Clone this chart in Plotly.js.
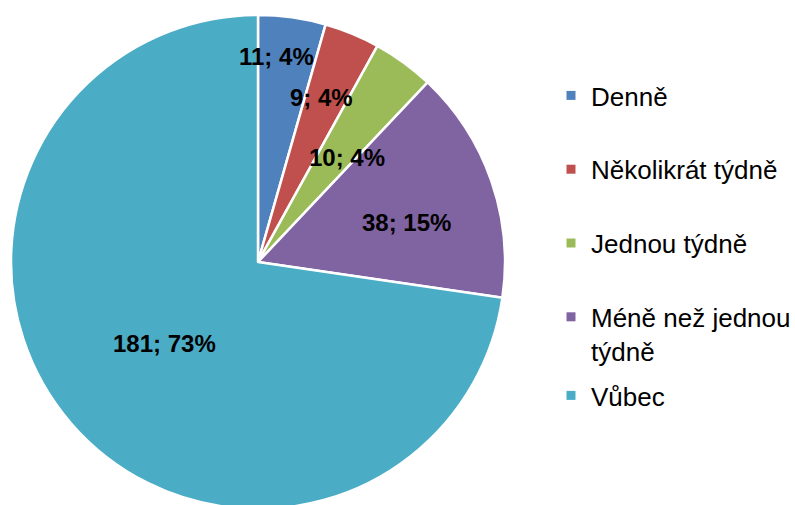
<!DOCTYPE html>
<html>
<head>
<meta charset="utf-8">
<script src="https://cdn.plot.ly/plotly-3.0.1.min.js"></script>
<style>
html,body{margin:0;padding:0;overflow:hidden;background:#fff;width:795px;height:505px;}
#chart{width:840px;height:515px;}
</style>
</head>
<body>
<div id="chart"></div>
<script>
// Data
const categories = ['Denně', 'Několikrát týdně', 'Jednou týdně', 'Méně než jednou týdně', 'Vůbec'];
const legendLabels = ['Denně', 'Několikrát týdně', 'Jednou týdně', 'Méně než jednou<br>týdně', 'Vůbec'];
const values = [11, 9, 10, 38, 181];
const colors = ['#4F81BD', '#C0504D', '#9BBB59', '#8064A2', '#4BACC6'];

// Label placement styles (fraction of radius, fraction across slice angle)
const labelRadius = [0.834, 0.715, 0.557, 0.623, 0.502];
const labelAngleFrac = [0.33, 0.385, 0.79, 0.58, 0.50];

const W = 840, H = 515;
const dom = {x0: 11, x1: 505, y0: 15, y1: 509};
const cx = (dom.x0 + dom.x1) / 2, cy = (dom.y0 + dom.y1) / 2;
const R = Math.min(dom.x1 - dom.x0, dom.y1 - dom.y0) / 2;
const total = values.reduce((a, b) => a + b, 0);
const font = 'Liberation Sans, Arial, sans-serif';

const traces = [{
  type: 'pie',
  values: values,
  labels: categories,
  sort: false,
  direction: 'clockwise',
  rotation: 0,
  marker: {colors: colors, line: {color: '#ffffff', width: 2.5}},
  textinfo: 'none',
  hoverinfo: 'label+value+percent',
  showlegend: false,
  domain: {x: [dom.x0 / W, dom.x1 / W], y: [1 - dom.y1 / H, 1 - dom.y0 / H]}
}];

categories.forEach((c, i) => {
  traces.push({
    type: 'scatter', mode: 'markers', x: [null], y: [null],
    name: legendLabels[i],
    legendgroup: 'g' + i,
    legend: i === 4 ? 'legend2' : 'legend',
    marker: {symbol: 'square', size: 9, color: colors[i]},
    hoverinfo: 'skip'
  });
});

const annotations = [];
let cum = 0;
values.forEach((v, i) => {
  const th = (cum + labelAngleFrac[i] * v) / total * 2 * Math.PI;
  const px = cx + labelRadius[i] * R * Math.sin(th);
  const py = cy - labelRadius[i] * R * Math.cos(th);
  annotations.push({
    xref: 'paper', yref: 'paper', x: px / W, y: 1 - py / H,
    xanchor: 'center', yanchor: 'middle', showarrow: false,
    text: '<b>' + v + '; ' + Math.round(v / total * 100) + '%</b>',
    font: {family: font, size: 24, color: '#000000'}
  });
  cum += v;
});

const legendCommon = {
  xanchor: 'left', yanchor: 'top', x: 551 / W,
  font: {family: font, size: 26, color: '#000000'},
  bgcolor: 'rgba(0,0,0,0)', borderwidth: 0,
  valign: 'top', tracegroupgap: 37, itemclick: false, itemdoubleclick: false
};

const layout = {
  width: W, height: H,
  margin: {l: 0, r: 0, t: 0, b: 0},
  paper_bgcolor: '#ffffff', plot_bgcolor: '#ffffff',
  xaxis: {visible: false}, yaxis: {visible: false},
  showlegend: true,
  legend: Object.assign({}, legendCommon, {y: 1 - 72 / H}),
  legend2: Object.assign({}, legendCommon, {y: 1 - 372 / H}),
  annotations: annotations,
  font: {family: font}
};

Plotly.newPlot('chart', traces, layout, {displayModeBar: false, staticPlot: true});
</script>
</body>
</html>
